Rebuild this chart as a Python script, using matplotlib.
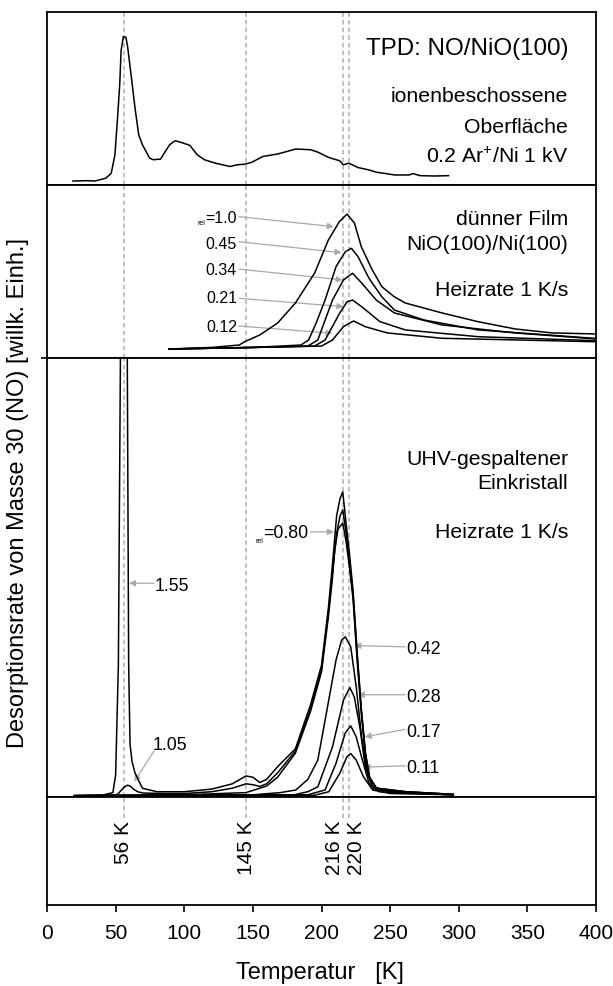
import matplotlib
matplotlib.use('Agg')
import matplotlib.pyplot as plt

plt.rcParams['font.family'] = ['Liberation Sans', 'DejaVu Sans']
plt.rcParams['mathtext.default'] = 'regular'

# ---- oberes Feld: ionenbeschossene Oberflaeche ----
top_T = [18.9, 29.5, 34.8, 42.8, 46.8, 49.5, 51.4, 53.0, 54.0, 55.6, 57.5, 58.8, 61.5, 64.1, 66.8,
         69.5, 74.8, 77.5, 82.8, 85.4, 89.4, 93.4, 97.4, 104.1, 109.4, 114.7, 122.7, 133.4, 138.7,
         144.0, 149.4, 157.3, 168.0, 181.3, 192.0, 197.3, 205.3, 213.3, 215.9, 219.9, 226.6, 234.6,
         239.9, 245.2, 253.2, 263.9, 266.5, 271.9, 282.5, 292.6]
top_v = [0.023, 0.025, 0.023, 0.039, 0.068, 0.175, 0.388, 0.583, 0.777, 0.858, 0.854, 0.796, 0.621,
         0.447, 0.291, 0.233, 0.155, 0.146, 0.150, 0.184, 0.233, 0.256, 0.247, 0.229, 0.175, 0.146,
         0.126, 0.107, 0.117, 0.120, 0.132, 0.165, 0.179, 0.208, 0.204, 0.190, 0.159, 0.140, 0.117,
         0.126, 0.101, 0.087, 0.074, 0.068, 0.058, 0.058, 0.066, 0.054, 0.052, 0.054]

# ---- mittleres Feld: duenner Film ----
mid_T_10 = [89, 120, 140, 144, 155, 168, 181, 195, 205, 213, 218.6, 224, 229, 237, 244, 253, 261, 288, 314, 341, 368, 400]
mid_v_10 = [0.052, 0.061, 0.075, 0.094, 0.133, 0.202, 0.318, 0.491, 0.682, 0.788, 0.832, 0.780, 0.643, 0.509,
            0.412, 0.354, 0.318, 0.260, 0.210, 0.168, 0.145, 0.139]
mid_T_045 = [89, 150, 185, 190.6, 196, 202.6, 210.6, 217.3, 221.8, 226.6, 234.6, 243.9, 253.2, 274.5, 314.4, 400]
mid_v_045 = [0.052, 0.061, 0.075, 0.104, 0.2, 0.335, 0.528, 0.614, 0.634, 0.586, 0.461, 0.354, 0.277, 0.220, 0.162, 0.113]
mid_T_034 = [89, 150, 190, 197.3, 208, 216, 222.6, 229.2, 239.9, 253.2, 287.8, 341, 400]
mid_v_034 = [0.052, 0.061, 0.069, 0.104, 0.335, 0.451, 0.490, 0.434, 0.335, 0.260, 0.191, 0.145, 0.110]
mid_T_021 = [89, 150, 195, 202.6, 213.3, 218.6, 222.6, 229.2, 242.6, 261.2, 314.4, 400]
mid_v_021 = [0.052, 0.061, 0.069, 0.104, 0.260, 0.325, 0.335, 0.297, 0.210, 0.162, 0.123, 0.100]
mid_T_012 = [89, 150, 200, 208, 216, 223.4, 231.9, 247.9, 287.8, 400]
mid_v_012 = [0.052, 0.061, 0.069, 0.104, 0.181, 0.214, 0.181, 0.145, 0.114, 0.094]

# ---- unteres Feld: UHV-gespaltener Einkristall ----
bot_T_155 = [20, 40, 48, 50, 52, 53.5, 54.5, 57.5, 58.5, 59.5, 60.5, 62, 64.1, 69.5, 80, 100, 120, 135, 145,
             150, 155, 160, 168, 181, 192, 200, 205, 208, 211, 213.5, 215.5, 218, 220.5, 223, 226, 229,
             232, 235, 240, 261, 296]
bot_v_155 = [0.003, 0.004, 0.01, 0.05, 0.3, 1.0, 1.6, 1.6, 1.0, 0.3, 0.12, 0.08, 0.055, 0.02, 0.012, 0.012,
             0.018, 0.03, 0.048, 0.045, 0.033, 0.04, 0.069, 0.11, 0.21, 0.30, 0.43, 0.53, 0.64, 0.68,
             0.695, 0.62, 0.55, 0.47, 0.33, 0.2, 0.1, 0.045, 0.02, 0.012, 0.006]
bot_T_105 = [20, 50, 52, 54, 56, 58.8, 61, 63, 66, 70, 85, 100, 120, 135, 145, 150, 155, 160, 168, 181,
             192, 200, 205, 208, 211, 213.5, 215.5, 218, 220.5, 223, 226, 229, 232, 235, 240, 261, 296]
bot_v_105 = [0.003, 0.004, 0.008, 0.015, 0.022, 0.027, 0.024, 0.018, 0.012, 0.009, 0.008, 0.008, 0.012,
             0.02, 0.03, 0.028, 0.024, 0.03, 0.055, 0.105, 0.2, 0.29, 0.42, 0.51, 0.6, 0.64, 0.654, 0.6,
             0.53, 0.46, 0.32, 0.2, 0.1, 0.045, 0.02, 0.012, 0.006]
bot_T_080 = [20, 100, 145, 160, 168, 181, 192, 200, 205, 208, 209.5, 212, 215.5, 218, 220.5, 223, 226, 229,
             232, 235, 240, 261, 296]
bot_v_080 = [0.003, 0.005, 0.01, 0.025, 0.045, 0.1, 0.195, 0.285, 0.41, 0.5, 0.56, 0.61, 0.624, 0.58, 0.52,
             0.45, 0.31, 0.19, 0.095, 0.043, 0.02, 0.012, 0.006]
bot_T_042 = [20, 150, 170, 181.3, 190, 197.3, 205.3, 210.6, 214.6, 217.3, 221.3, 225.3, 229.2, 233.3, 238, 261, 296]
bot_v_042 = [0.003, 0.005, 0.01, 0.016, 0.04, 0.084, 0.221, 0.312, 0.357, 0.365, 0.342, 0.251, 0.137, 0.055,
             0.016, 0.01, 0.005]
bot_T_028 = [20, 180, 190, 197.3, 208, 216, 220.7, 223.9, 227.9, 231.9, 237.2, 250, 296]
bot_v_028 = [0.003, 0.005, 0.012, 0.023, 0.114, 0.221, 0.249, 0.228, 0.160, 0.069, 0.023, 0.012, 0.005]
bot_T_017 = [20, 190, 202.6, 210.6, 217.3, 221.3, 225.3, 229.2, 234.6, 242, 296]
bot_v_017 = [0.003, 0.005, 0.016, 0.077, 0.146, 0.162, 0.137, 0.091, 0.031, 0.012, 0.005]
bot_T_011 = [20, 195, 205.3, 213.3, 218.6, 221.3, 225.3, 230.6, 237.2, 250, 296]
bot_v_011 = [0.003, 0.004, 0.012, 0.054, 0.092, 0.099, 0.084, 0.046, 0.016, 0.008, 0.005]

peak_T = [56, 145, 216, 220]
peak_labels = ['56 K', '145 K', '216 K', '220 K']
xticks = [0, 50, 100, 150, 200, 250, 300, 350, 400]

mid_labels = ['=1.0', '0.45', '0.34', '0.21', '0.12']
bot_labels = ['1.55', '1.05', '0.42', '0.28', '0.17', '0.11']

GRAY = '#b0b0b0'
ARROW = '#a8a8a8'

fig = plt.figure(figsize=(6.13, 9.86), dpi=100)


def box(top, bot):
    return [47 / 613, (986 - bot) / 986, 549 / 613, (bot - top) / 986]


ax_top = fig.add_axes(box(12, 185))
ax_mid = fig.add_axes(box(185, 358))
ax_bot = fig.add_axes(box(358, 797))
ax_lab = fig.add_axes(box(797, 905))

for ax in [ax_top, ax_mid, ax_bot, ax_lab]:
    ax.set_xlim(0, 400)
    ax.set_ylim(0, 1)
    for s in ax.spines.values():
        s.set_linewidth(1.3)
    ax.tick_params(left=False, bottom=False, labelleft=False, labelbottom=False)
    for t in peak_T:
        if ax is ax_lab:
            ax.axvline(t, ymin=0.806, ymax=1, color=GRAY, lw=1.1, ls=(0, (3, 2)), zorder=1)
        else:
            ax.axvline(t, color=GRAY, lw=1.1, ls=(0, (3, 2)), zorder=1)

lw = 1.1
ax_top.plot(top_T, top_v, color='black', lw=lw, zorder=3)

for T, v in [(mid_T_10, mid_v_10), (mid_T_045, mid_v_045), (mid_T_034, mid_v_034),
             (mid_T_021, mid_v_021), (mid_T_012, mid_v_012)]:
    ax_mid.plot(T, v, color='black', lw=lw, zorder=3)

for T, v in [(bot_T_155, bot_v_155), (bot_T_105, bot_v_105), (bot_T_080, bot_v_080),
             (bot_T_042, bot_v_042), (bot_T_028, bot_v_028), (bot_T_017, bot_v_017),
             (bot_T_011, bot_v_011)]:
    ax_bot.plot(T, v, color='black', lw=lw, zorder=3)


def arrow(ax, start, tip):
    ax.annotate('', xy=tip, xytext=start,
                arrowprops=dict(arrowstyle='-|>', color=ARROW, lw=0.9, mutation_scale=9,
                                shrinkA=0, shrinkB=0), zorder=2)


# Texte rechts
rx = 379.6
ax_top.text(rx, 0.751, 'TPD: NO/NiO(100)', ha='right', va='baseline', fontsize=17.4)
ax_top.text(rx, 0.481, 'ionenbeschossene', ha='right', va='baseline', fontsize=15.3)
ax_top.text(rx, 0.299, 'Oberfläche', ha='right', va='baseline', fontsize=15.3)
ax_top.text(rx, 0.125, r'0.2 Ar$^{+}$/Ni 1 kV', ha='right', va='baseline', fontsize=15.3)

ax_mid.text(rx, 0.769, 'dünner Film', ha='right', va='baseline', fontsize=15.3)
ax_mid.text(rx, 0.624, 'NiO(100)/Ni(100)', ha='right', va='baseline', fontsize=15.3)
ax_mid.text(rx, 0.358, 'Heizrate 1 K/s', ha='right', va='baseline', fontsize=15.3)

ax_bot.text(rx, 0.756, 'UHV-gespaltener', ha='right', va='baseline', fontsize=15.3)
ax_bot.text(rx, 0.701, 'Einkristall', ha='right', va='baseline', fontsize=15.3)
ax_bot.text(rx, 0.589, 'Heizrate 1 K/s', ha='right', va='baseline', fontsize=15.3)

# Bedeckungen mittleres Feld
mid_base = [0.778, 0.628, 0.480, 0.316, 0.152]
mid_from = [0.817, 0.672, 0.514, 0.345, 0.185]
mid_tip = [(209, 0.759), (214.6, 0.609), (215.4, 0.451), (216, 0.297), (208, 0.143)]
for lab, b, f, tip in zip(mid_labels, mid_base, mid_from, mid_tip):
    ax_mid.text(138.4, b, lab, ha='right', va='baseline', fontsize=11.5)
    arrow(ax_mid, (140, f), tip)
ax_mid.text(115.3, 0.766, 'rel', ha='right', va='baseline', fontsize=5)

# Bedeckungen unteres Feld
ax_bot.text(78.7, 0.470, bot_labels[0], ha='left', va='baseline', fontsize=12.8)
arrow(ax_bot, (78, 0.487), (59.8, 0.487))
ax_bot.text(77.3, 0.107, bot_labels[1], ha='left', va='baseline', fontsize=12.8)
arrow(ax_bot, (78, 0.105), (63.6, 0.035))
bot_base = [0.326, 0.217, 0.137, 0.054]
bot_from = [0.342, 0.233, 0.154, 0.071]
bot_tip = [(223.9, 0.345), (226.5, 0.233), (231.5, 0.137), (230.6, 0.068)]
for lab, b, f, tip in zip(bot_labels[2:], bot_base, bot_from, bot_tip):
    ax_bot.text(262, b, lab, ha='left', va='baseline', fontsize=12.8)
    arrow(ax_bot, (261, f), tip)
ax_bot.text(190.6, 0.589, '=0.80', ha='right', va='baseline', fontsize=12.8)
ax_bot.text(157.5, 0.578, 'rel', ha='right', va='baseline', fontsize=5)
arrow(ax_bot, (192, 0.604), (209, 0.604))

# kleiner Strich links an der Grenze
ax_bot.tick_params(left=True, direction='out', length=4, width=1.2)
ax_bot.set_yticks([1])

# Temperaturmarken
lab_x = [56, 145, 209.5, 225.5]
for x, lab in zip(lab_x, peak_labels):
    ax_lab.text(x, 0.78, lab, rotation=90, ha='center', va='top', fontsize=15)

ax_lab.set_xticks(xticks)
ax_lab.set_xticklabels([str(t) for t in xticks])
ax_lab.tick_params(bottom=True, labelbottom=True, direction='out', length=5, width=1.2,
                   labelsize=15, pad=9)

fig.text(0.522, 0.0132, 'Temperatur   [K]', ha='center', va='center', fontsize=17)
fig.text(0.029, 0.4995, 'Desorptionsrate von Masse 30 (NO) [willk. Einh.]', rotation=90,
         ha='center', va='center', fontsize=17)

fig.savefig('out.png', dpi=100)
